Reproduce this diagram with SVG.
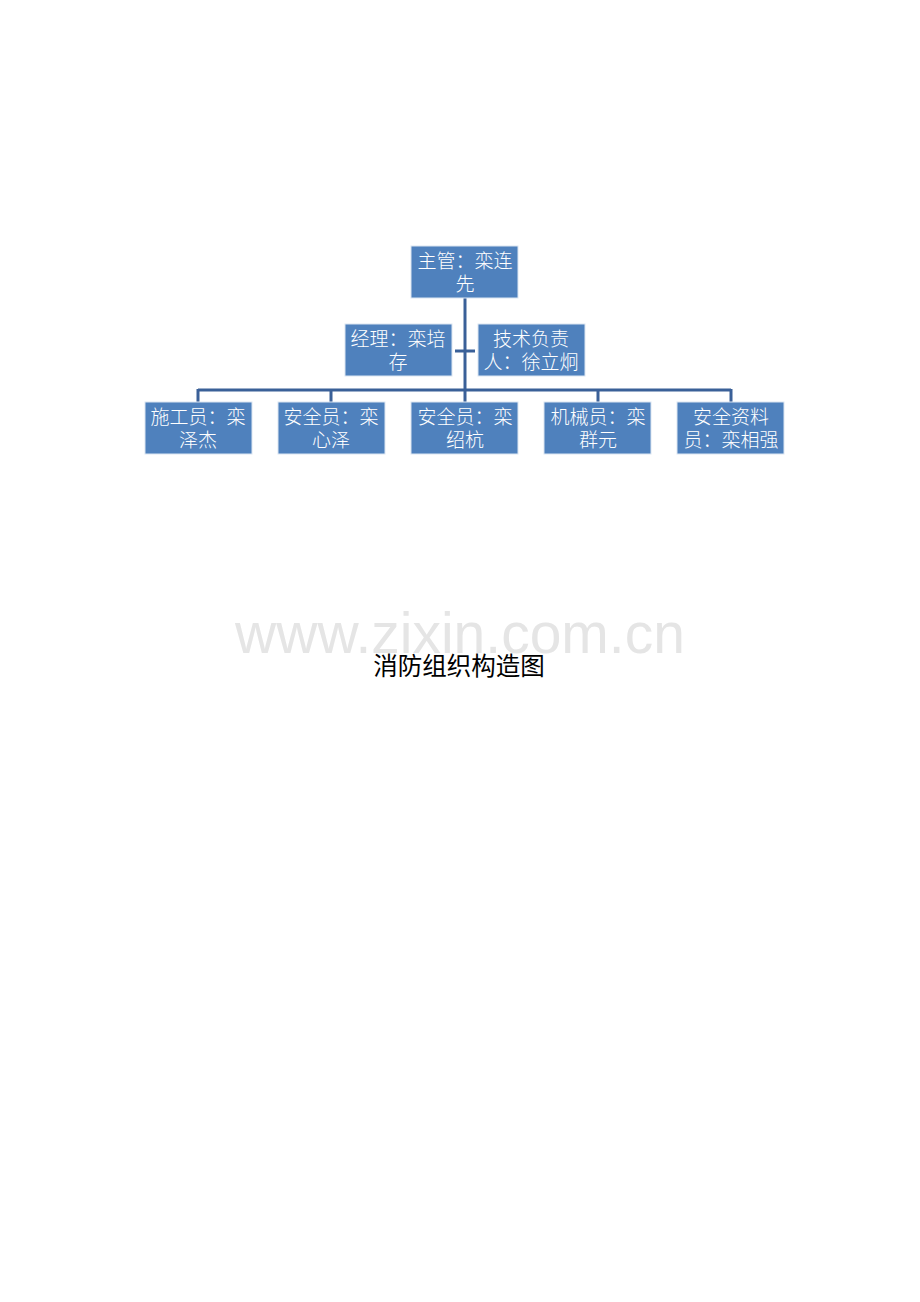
<svg xmlns="http://www.w3.org/2000/svg" width="920" height="1302" viewBox="0 0 920 1302">
<style>
.box{fill:#4F81BD;stroke:#DCE6F2;stroke-width:1}
.t{font-family:"Noto Sans CJK SC","Noto Sans CJK JP",sans-serif;font-size:19px;fill:#FFFFFF;text-anchor:middle;font-weight:300}
.c{stroke:#3A6098;stroke-width:3;fill:none}
</style>
<rect width="920" height="1302" fill="#FFFFFF"/>
<text x="460" y="653" font-family="Liberation Sans, Arial, sans-serif" font-size="57" fill="#E5E5E5" text-anchor="middle">www.zixin.com.cn</text>
<g id="connectors">
<path class="c" d="M465 298 V390"/>
<path class="c" d="M455 351 H475"/>
<path class="c" d="M198 390 H731"/>
<path class="c" d="M198 389 V402 M331 389 V402 M465 389 V402 M598 389 V402 M731 389 V402"/>
</g>
<g id="n_top"><rect class="box" x="411" y="246" width="107" height="52"/><text class="t" x="465" y="268">主管：栾连</text><text class="t" x="465" y="291">先</text></g>
<g id="n_mgr"><rect class="box" x="345" y="324" width="107" height="52"/><text class="t" x="398" y="346">经理：栾培</text><text class="t" x="398" y="369">存</text></g>
<g id="n_tech"><rect class="box" x="478" y="324" width="107" height="52"/><text class="t" x="531" y="346">技术负责</text><text class="t" x="531" y="369">人：徐立炯</text></g>
<g id="n_b1"><rect class="box" x="145" y="402" width="107" height="52"/><text class="t" x="198" y="424">施工员：栾</text><text class="t" x="198" y="447">泽杰</text></g>
<g id="n_b2"><rect class="box" x="278" y="402" width="107" height="52"/><text class="t" x="331" y="424">安全员：栾</text><text class="t" x="331" y="447">心泽</text></g>
<g id="n_b3"><rect class="box" x="411" y="402" width="107" height="52"/><text class="t" x="465" y="424">安全员：栾</text><text class="t" x="465" y="447">绍杭</text></g>
<g id="n_b4"><rect class="box" x="544" y="402" width="107" height="52"/><text class="t" x="598" y="424">机械员：栾</text><text class="t" x="598" y="447">群元</text></g>
<g id="n_b5"><rect class="box" x="677" y="402" width="107" height="52"/><text class="t" x="731" y="424">安全资料</text><text class="t" x="731" y="447">员：栾相强</text></g>
<text x="459" y="675" font-family="Noto Sans CJK SC, sans-serif" font-size="24.5" fill="#000000" text-anchor="middle">消防组织构造图</text>
</svg>
